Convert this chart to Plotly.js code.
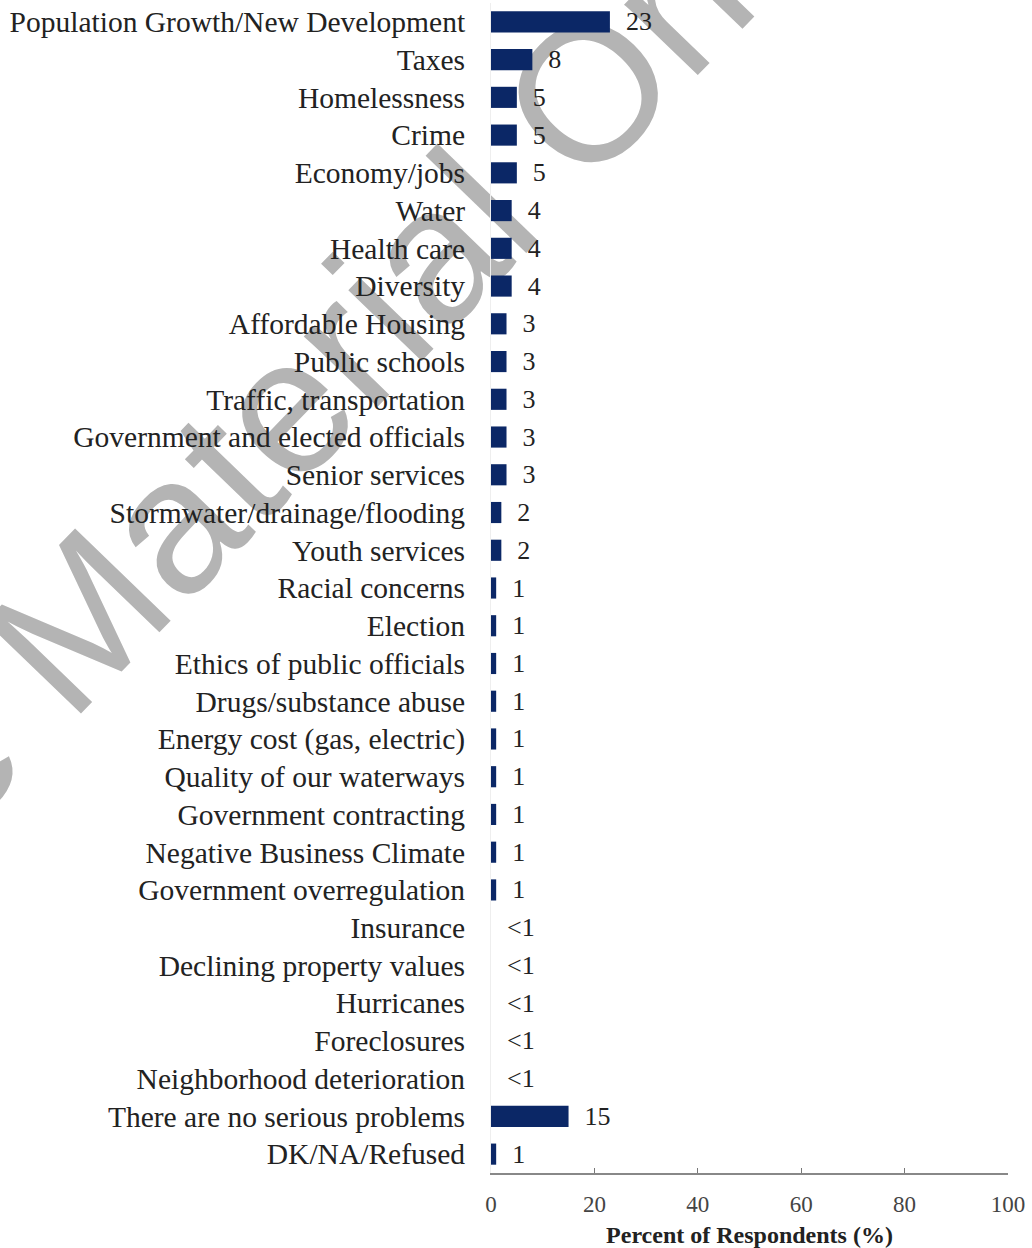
<!DOCTYPE html>
<html>
<head>
<meta charset="utf-8">
<script src="https://cdn.plot.ly/plotly-3.0.1.min.js"></script>
<style>
html,body{margin:0;padding:0;background:#fff;}
#chart{width:1032px;height:1248px;}
</style>
</head>
<body>
<div id="chart"></div>
<script>
const categories = [
  "Population Growth/New Development",
  "Taxes",
  "Homelessness",
  "Crime",
  "Economy/jobs",
  "Water",
  "Health care",
  "Diversity",
  "Affordable Housing",
  "Public schools",
  "Traffic, transportation",
  "Government and elected officials",
  "Senior services",
  "Stormwater/drainage/flooding",
  "Youth services",
  "Racial concerns",
  "Election",
  "Ethics of public officials",
  "Drugs/substance abuse",
  "Energy cost (gas, electric)",
  "Quality of our waterways",
  "Government contracting",
  "Negative Business Climate",
  "Government overregulation",
  "Insurance",
  "Declining property values",
  "Hurricanes",
  "Foreclosures",
  "Neighborhood deterioration",
  "There are no serious problems",
  "DK/NA/Refused"
];
const values = [23, 8, 5, 5, 5, 4, 4, 4, 3, 3, 3, 3, 3, 2, 2, 1, 1, 1, 1, 1, 1, 1, 1, 1, 0, 0, 0, 0, 0, 15, 1];
const valueLabels = ["23", "8", "5", "5", "5", "4", "4", "4", "3", "3", "3", "3", "3", "2", "2", "1", "1", "1", "1", "1", "1", "1", "1", "1", "<1", "<1", "<1", "<1", "<1", "15", "1"];
const xTicks = [0, 20, 40, 60, 80, 100];
const xTitle = "Percent of Respondents (%)";
const watermark = "Sample Material Only";

const serif = "Liberation Serif, Times New Roman, serif";

const trace = {
  type: "bar",
  orientation: "h",
  y: categories,
  x: values,
  text: valueLabels,
  texttemplate: "\u00a0\u00a0%{text}",
  textposition: "outside",
  constraintext: "none",
  cliponaxis: false,
  textfont: {family: serif, size: 26, color: "#222"},
  marker: {color: "#0b2766"},
  hoverinfo: "skip"
};

const layout = {
  width: 1032,
  height: 1248,
  margin: {l: 491, r: 24, t: 3, b: 75},
  paper_bgcolor: "#fff",
  plot_bgcolor: "rgba(0,0,0,0)",
  showlegend: false,
  bargap: 0.44,
  font: {family: serif, color: "#222"},
  xaxis: {
    range: [0, 100],
    tickvals: xTicks,
    ticktext: xTicks.map(String),
    ticks: "inside",
    ticklen: 5,
    tickcolor: "#777",
    showline: true,
    linecolor: "#888",
    linewidth: 1.5,
    showgrid: false,
    zeroline: false,
    tickfont: {family: serif, size: 23, color: "#444"},
    ticklabelstandoff: 10,
    title: {text: "<b>" + xTitle + "</b>", font: {family: serif, size: 24, color: "#222"}, standoff: 11}
  },
  yaxis: {
    autorange: "reversed",
    type: "category",
    showline: true,
    linecolor: "#eeeeee",
    linewidth: 1,
    ticks: "",
    showgrid: false,
    zeroline: false,
    tickfont: {family: serif, size: 29.5, color: "#222"},
    ticklabelstandoff: 19
  },
  annotations: [{
    text: watermark,
    xref: "paper", yref: "paper",
    x: -0.619, y: 0.555,
    xanchor: "center", yanchor: "middle",
    textangle: -46,
    showarrow: false,
    font: {family: "Liberation Sans, Arial, sans-serif", size: 193, color: "#b4b4b4"}
  }]
};

Plotly.newPlot("chart", [trace], layout, {displayModeBar: false, staticPlot: true}).then(function (gd) {
  // place the watermark beneath the chart marks and labels, as in the reference
  const ann = gd.querySelector(".infolayer .annotation");
  const cart = gd.querySelector(".cartesianlayer");
  if (ann && cart) cart.parentNode.insertBefore(ann, cart);
});
</script>
</body>
</html>
